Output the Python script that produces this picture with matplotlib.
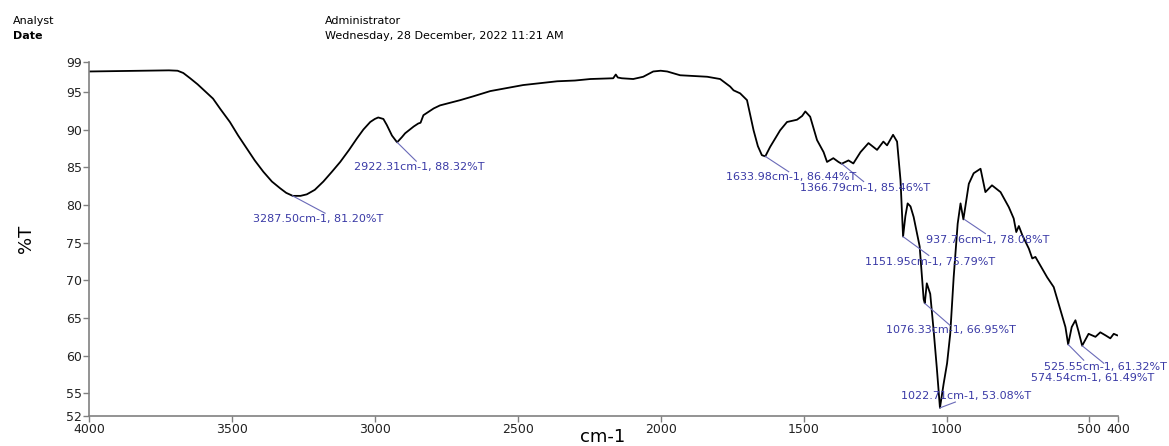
import matplotlib
matplotlib.use("Agg")
import matplotlib.pyplot as plt

# FTIR spectrum (wavenumber in cm-1, transmittance in %T)
wavenumber = [4000, 3900, 3800, 3720, 3690, 3670, 3646, 3620, 3600, 3566, 3540, 3507,
              3478, 3448, 3420, 3390, 3360, 3331, 3310, 3287, 3260, 3238, 3210, 3180,
              3150, 3121, 3090, 3063, 3040, 3016, 3000, 2988, 2970, 2958, 2940, 2922,
              2905, 2894, 2864, 2848, 2840, 2830, 2794, 2772, 2701, 2656, 2596, 2481,
              2362, 2300, 2246, 2166, 2157, 2150, 2136, 2096, 2061, 2026, 2000, 1977,
              1932, 1837, 1792, 1757, 1745, 1722, 1698, 1675, 1660, 1646, 1634, 1617,
              1582, 1558, 1523, 1505, 1494, 1477, 1453, 1430, 1418, 1396, 1378, 1367,
              1343, 1326, 1301, 1273, 1243, 1221, 1208, 1187, 1173, 1161, 1152, 1144,
              1136, 1126, 1115, 1097, 1094, 1086, 1080, 1076, 1069, 1057, 1045, 1034,
              1023, 1010, 998, 987, 975, 961, 951, 941, 922, 905, 881, 864, 841, 811,
              782, 765, 756, 747, 735, 712, 700, 689, 648, 625, 608, 584, 574.5, 562,
              549, 538, 525.5, 503, 479, 462, 444, 427, 415, 403]
transmittance = [97.7, 97.75, 97.8, 97.85, 97.8, 97.5, 96.8, 96.0, 95.3, 94.1, 92.7, 91.0,
                 89.2, 87.5, 85.9, 84.4, 83.1, 82.2, 81.6, 81.2, 81.2, 81.4, 82.0, 83.1,
                 84.4, 85.7, 87.3, 88.8, 90.0, 91.0, 91.4, 91.6, 91.4, 90.6, 89.2, 88.3,
                 89.0, 89.5, 90.4, 90.8, 90.9, 91.9, 92.8, 93.2, 93.9, 94.4, 95.1, 95.9,
                 96.4, 96.5, 96.7, 96.8, 97.3, 96.9, 96.8, 96.7, 97.0, 97.7, 97.8, 97.7,
                 97.2, 97.0, 96.7, 95.7, 95.2, 94.8, 93.9, 89.9, 87.8, 86.6, 86.44, 87.7,
                 89.9, 91.0, 91.3, 91.8, 92.4, 91.7, 88.6, 87.0, 85.7, 86.2, 85.7, 85.46,
                 85.9, 85.5, 87.0, 88.2, 87.3, 88.4, 87.9, 89.3, 88.4, 83.3, 75.8, 78.5,
                 80.2, 79.8, 78.4, 75.1, 74.5, 70.5, 67.5, 66.95, 69.6, 68.2, 63.3, 58.4,
                 53.08, 56.3, 59.0, 62.9, 70.4, 77.5, 80.2, 78.08, 82.8, 84.2, 84.8, 81.7,
                 82.6, 81.7, 79.7, 78.2, 76.4, 77.2, 76.0, 74.2, 72.9, 73.1, 70.4, 69.1,
                 66.9, 63.8, 61.49, 63.8, 64.7, 63.2, 61.32, 62.9, 62.5, 63.1, 62.7, 62.3,
                 62.9, 62.7]

# peak picks
peak_labels = ["3287.50cm-1, 81.20%T", "2922.31cm-1, 88.32%T", "1633.98cm-1, 86.44%T",
               "1366.79cm-1, 85.46%T", "1151.95cm-1, 75.79%T", "937.76cm-1, 78.08%T",
               "1076.33cm-1, 66.95%T", "1022.71cm-1, 53.08%T", "525.55cm-1, 61.32%T",
               "574.54cm-1, 61.49%T"]
peak_wn = [3287.50, 2922.31, 1633.98, 1366.79, 1151.95, 937.76, 1076.33, 1022.71, 525.55, 574.54]
peak_t = [81.20, 88.32, 86.44, 85.46, 75.79, 78.08, 66.95, 53.08, 61.32, 61.49]
line_end = [(3174, 78.9), (2855, 85.8), (1552, 84.4), (1290, 83.1), (1062, 73.3),
            (864, 76.2), (987, 64.0), (969, 53.85), (450, 59.0), (520, 59.4)]
label_pos = [(3197, 78.1), (2843, 85.0), (1543, 83.7), (1284, 82.3), (1057, 72.4),
             (857, 75.3), (986, 63.4), (932, 54.6), (444, 58.5), (489, 57.0)]

xticks = [4000, 3500, 3000, 2500, 2000, 1500, 1000, 500, 400]
yticks = [52, 55, 60, 65, 70, 75, 80, 85, 90, 95, 99]

fig = plt.figure(figsize=(11.69, 4.46), dpi=100)
ax = fig.add_axes([0.0761, 0.0673, 0.8803, 0.7944])

ax.plot(wavenumber, transmittance, color="black", lw=1.3)

label_color = "#3a3aa6"
line_color = "#6a6ab8"
for lab, wn, t, (lx, ly), (tx, ty) in zip(peak_labels, peak_wn, peak_t, line_end, label_pos):
    ax.plot([wn, lx], [t, ly], color=line_color, lw=0.8)
    ax.text(tx, ty, lab, color=label_color, fontsize=8, ha="center", va="center",
            family="DejaVu Sans")

ax.set_xlim(4000, 400)
ax.set_ylim(52, 99)
ax.set_xticks(xticks)
ax.set_xticklabels([str(v) for v in xticks])
ax.set_yticks(yticks)

for side in ["top", "right"]:
    ax.spines[side].set_visible(False)
for side in ["left", "bottom"]:
    ax.spines[side].set_color("#808080")
    ax.spines[side].set_linewidth(1.2)
ax.tick_params(axis="both", colors="#808080", labelcolor="#222222", labelsize=9,
               length=4, width=1, pad=1)

ax.set_ylabel("%T", fontsize=13, va="center")
ax.yaxis.set_label_coords(-0.0615, 0.5)
ax.set_xlabel("cm-1", fontsize=13, va="center")
ax.xaxis.set_label_coords(0.4995, -0.06)

fig.text(0.011, 0.953, "Analyst", fontsize=8, va="center")
fig.text(0.011, 0.919, "Date", fontsize=8, va="center", weight="bold")
fig.text(0.278, 0.953, "Administrator", fontsize=8, va="center")
fig.text(0.278, 0.919, "Wednesday, 28 December, 2022 11:21 AM", fontsize=8, va="center")

fig.savefig("out.png", dpi=100)
